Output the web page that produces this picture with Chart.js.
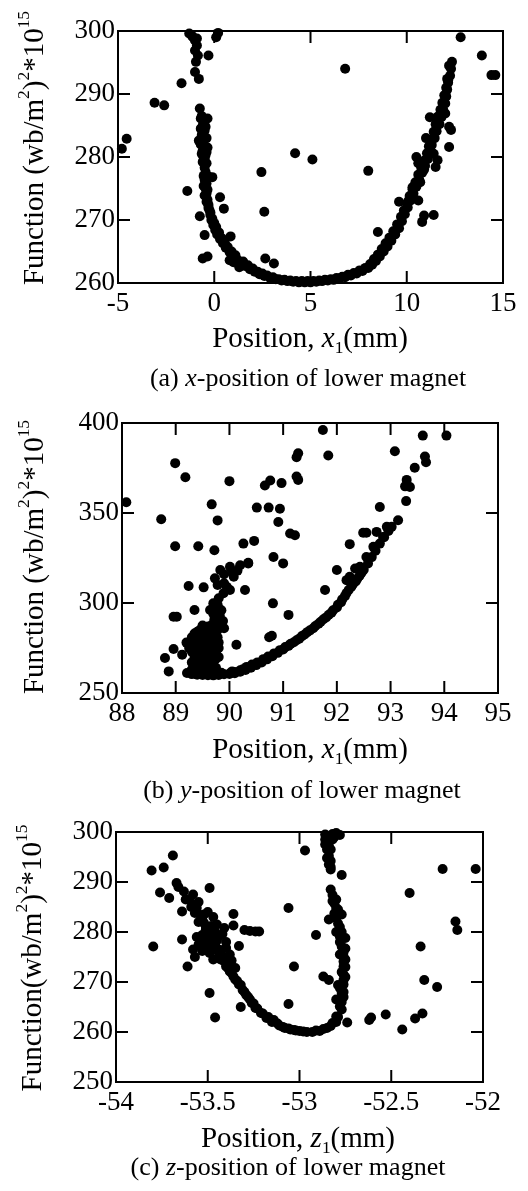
<!DOCTYPE html>
<html>
<head>
<meta charset="utf-8">
<script src="https://cdn.jsdelivr.net/npm/chart.js@4.4.1/dist/chart.umd.min.js"></script>
<style>
  html, body { margin: 0; padding: 0; background: #fff; }
  body { width: 528px; height: 1191px; position: relative; overflow: hidden; font-family: 'Liberation Serif', 'Times New Roman', serif; color: #000; }
  canvas { position: absolute; left: 0; }
  .t { position: absolute; white-space: nowrap; transform: translate(-50%, -50%); font-size: 29px; line-height: 1; }
  .cap { font-size: 26px; }
  .yt { transform: translate(-50%, -50%) rotate(-90deg); font-size: 29px; }
  sub { font-size: 0.6em; vertical-align: -0.35em; line-height: 0; }
  sup { font-size: 0.6em; vertical-align: 0.75em; line-height: 0; }
</style>
</head>
<body>
<canvas id="chartA" width="528" height="330" style="top:0px"></canvas>
<canvas id="chartB" width="528" height="345" style="top:395px"></canvas>
<canvas id="chartC" width="528" height="320" style="top:810px"></canvas>

<div class="t yt" style="left:33px;top:148px">Function (wb/m<sup>2</sup>)<sup>2</sup>*10<sup>15</sup></div>
<div class="t" style="left:310px;top:337px">Position, <i>x</i><sub>1</sub>(mm)</div>
<div class="t cap" style="left:308px;top:378px">(a) <i>x</i>-position of lower magnet</div>

<div class="t yt" style="left:33px;top:557px">Function (wb/m<sup>2</sup>)<sup>2</sup>*10<sup>15</sup></div>
<div class="t" style="left:310px;top:748px">Position, <i>x</i><sub>1</sub>(mm)</div>
<div class="t cap" style="left:302px;top:790px">(b) <i>y</i>-position of lower magnet</div>

<div class="t yt" style="left:31px;top:958px">Function(wb/m<sup>2</sup>)<sup>2</sup>*10<sup>15</sup></div>
<div class="t" style="left:298px;top:1137px">Position, <i>z</i><sub>1</sub>(mm)</div>
<div class="t cap" style="left:288px;top:1167px">(c) <i>z</i>-position of lower magnet</div>

<script>
// tick values for each panel
const ticksAX = [-5, 0, 5, 10, 15];
const ticksAY = [260, 270, 280, 290, 300];
const ticksBX = [88, 89, 90, 91, 92, 93, 94, 95];
const ticksBY = [250, 300, 350, 400];
const ticksCX = [-54, -53.5, -53, -52.5, -52];
const ticksCY = [250, 260, 270, 280, 290, 300];

// (a) x-position of lower magnet: [position, function]
const pointsA = [
  [-4.8, 281.3], [-4.55, 282.9], [-3.1, 288.6], [-2.6, 288.2], [-1.7, 291.7],
  [-1.3, 299.6], [-1.15, 299.2], [-1.0, 298.5], [-0.9, 297.7], [-1.0, 296.9], [-0.85, 296.1],
  [-0.95, 295.1], [-1.0, 293.5], [-0.8, 292.4], [-1.1, 299.0], [-0.9, 298.8],
  [-0.3, 296.1], [0.1, 299.0], [0.2, 299.7],
  [12.8, 299.0], [13.9, 296.1], [14.6, 293.0], [14.4, 293.0],
  [6.8, 294.0], [4.2, 280.6], [5.1, 279.6], [2.45, 277.6], [2.6, 271.3], [2.65, 263.9], [3.1, 263.1], [8.0, 277.8],
  [-1.4, 274.6], [-0.75, 270.6], [-0.5, 267.6], [-0.6, 263.9], [-0.35, 264.2],
  [0.3, 273.6], [0.5, 271.8], [0.85, 267.4], [0.8, 263.6],
  [-0.75, 287.7], [-0.7, 286.1], [-0.35, 286.1],
  [-0.6, 285.0], [-0.5, 284.2], [-0.65, 283.5], [-0.4, 283.0], [-0.8, 282.6], [-0.55, 282.0], [-0.35, 281.5],
  [-0.6, 281.0], [-0.45, 280.3], [-0.55, 279.6], [-0.4, 279.0], [-0.5, 278.3], [-0.45, 277.6], [-0.35, 277.0],
  [-0.5, 276.4], [-0.4, 275.8], [-0.45, 275.0], [-0.4, 274.2], [-0.1, 276.8], [-0.5, 273.9], [-0.35, 273.2],
  [-0.3, 272.4], [-0.25, 271.6], [-0.2, 270.8], [-0.15, 270.0], [-0.05, 269.2], [0.05, 268.4], [0.15, 267.7],
  [0.3, 267.0], [0.45, 266.3], [0.6, 265.6], [0.8, 264.9], [1.0, 264.3], [1.2, 263.7], [1.4, 263.2],
  [1.6, 262.7], [1.85, 262.2], [2.1, 261.8], [2.35, 261.4], [2.6, 261.1], [2.9, 260.8], [3.2, 260.6],
  [3.5, 260.4], [3.8, 260.3], [4.1, 260.2], [4.4, 260.1], [4.7, 260.1], [5.0, 260.1], [5.3, 260.2],
  [5.6, 260.3], [5.9, 260.4], [6.2, 260.5], [6.5, 260.7], [6.8, 260.9], [7.1, 261.2], [7.4, 261.5],
  [7.7, 261.9], [8.0, 262.4], [8.2, 262.9], [8.4, 263.5], [8.6, 264.2], [8.8, 265.0], [9.0, 265.8],
  [9.2, 266.7], [9.4, 267.7], [9.6, 268.7], [9.75, 269.8], [9.9, 270.9], [10.05, 272.0], [10.2, 273.1],
  [10.35, 274.2], [10.5, 275.3], [10.65, 276.4], [10.8, 277.5], [10.95, 278.6], [11.1, 279.7], [11.2, 280.8],
  [11.3, 281.9], [11.45, 283.0], [11.55, 284.1], [11.7, 285.2], [11.8, 286.3], [11.9, 287.4], [12.0, 288.5],
  [12.05, 289.6], [12.1, 290.7], [12.15, 291.8], [12.25, 292.9], [12.3, 294.0], [12.35, 295.1],
  [1.0, 263.3], [1.3, 262.5], [8.1, 262.8], [8.3, 263.5], [8.5, 268.1], [9.6, 272.9], [10.3, 275.2],
  [10.1, 273.1], [10.6, 273.1], [10.8, 269.7], [10.9, 270.7], [11.4, 270.8], [10.5, 280.0], [10.6, 279.0],
  [11.4, 280.5], [11.5, 278.4], [11.2, 281.5], [12.0, 286.9], [12.2, 284.8], [12.3, 284.3], [12.2, 281.6],
  [12.1, 292.4], [12.2, 294.5], [11.2, 286.3], [10.9, 278.0], [11.6, 279.5], [11.0, 283.0], [10.7, 276.0],
  [-0.65, 286.5], [-0.55, 285.5], [-0.7, 284.5], [-0.45, 284.8], [-0.6, 283.2], [-0.7, 282.0], [-0.5, 281.5],
  [-0.65, 280.5], [-0.4, 280.8], [-0.6, 279.2], [-0.5, 279.8], [-0.55, 277.0], [-0.45, 276.0], [-0.55, 275.4],
  [-0.35, 274.8], [-0.45, 274.0], [-0.4, 272.9], [-0.3, 271.9], [-0.2, 271.2], [-0.1, 270.2], [0.0, 269.5],
  [0.1, 268.9], [0.25, 268.0], [0.4, 267.1], [0.55, 266.4], [0.7, 265.7], [0.9, 265.0], [1.1, 264.4],
  [1.5, 263.4], [1.75, 262.8], [2.0, 262.3], [2.25, 261.8], [2.5, 261.5], [2.75, 261.2], [3.05, 260.9],
  [3.35, 260.6], [3.65, 260.5], [3.95, 260.4], [4.25, 260.3], [4.55, 260.3], [4.85, 260.3], [5.15, 260.3],
  [5.45, 260.4], [5.75, 260.5], [6.05, 260.6], [6.35, 260.8], [6.65, 261.0], [6.95, 261.3], [7.25, 261.6],
  [7.55, 262.0], [7.85, 262.4], [8.1, 263.0], [8.3, 263.8], [8.5, 264.5], [8.7, 265.4], [8.9, 266.3],
  [9.1, 267.2], [9.3, 268.2], [9.5, 269.3], [9.7, 270.5], [9.85, 271.5], [10.0, 272.6], [10.15, 273.8],
  [10.3, 274.9], [10.45, 276.0], [10.6, 277.2], [10.75, 278.3], [10.9, 279.4], [11.05, 280.6], [11.15, 281.7],
  [11.3, 282.8], [11.4, 284.0], [11.5, 285.2], [11.6, 286.4], [11.75, 287.5], [11.85, 288.6], [11.95, 289.8],
  [12.05, 291.0], [12.15, 292.2]
];

// (b) y-position of lower magnet
const pointsB = [
  [88.08, 356], [88.73, 346.5], [88.99, 377.7], [89.18, 369.9], [88.99, 331.5], [89.42, 331.5],
  [89.67, 354.8], [89.78, 345.9], [89.72, 329.3], [89.24, 309.4], [89.52, 308.7], [89.35, 296.1],
  [88.96, 292.4], [89.02, 292.4], [88.8, 269.4], [88.96, 274.4], [89.12, 271.3], [88.87, 262],
  [90.0, 367.7], [90.29, 307.2], [90.13, 276.8], [90.26, 333], [90.46, 334.5], [90.35, 322.3],
  [90.51, 353], [90.73, 353], [90.94, 352.4], [90.66, 365.3], [90.76, 368.1], [90.97, 366.6],
  [90.91, 345], [90.82, 325.6], [91.0, 322], [90.81, 299.8], [90.74, 281], [90.79, 281.8],
  [91.1, 293.4], [91.13, 338.6], [91.22, 337.6], [91.25, 381], [91.28, 383.2], [91.25, 370.3],
  [91.28, 368.4], [91.74, 396.1], [91.84, 381.9], [91.78, 307.2], [92.0, 318.3], [92.24, 332.7],
  [92.8, 353.3], [93.08, 384.3], [93.6, 393], [94.04, 393], [93.64, 381.4], [93.66, 378.2],
  [93.45, 375.1], [93.3, 368.4], [93.27, 364.8], [93.36, 364.4], [93.29, 356.6], [93.14, 346],
  [92.93, 342.3], [92.74, 339.5], [92.55, 339], [92.49, 339], [92.86, 336.7], [92.68, 331.2],
  [92.55, 325.6], [92.43, 320.1], [92.34, 319.2], [92.24, 314.6], [92.18, 312.7],
  [89.21, 261.1], [89.3, 260.5], [89.4, 260.2], [89.5, 260.0], [89.6, 259.9], [89.7, 259.8],
  [89.8, 260.0], [89.9, 260.4], [90.01, 261.0], [90.1, 261.6], [90.2, 262.6], [90.32, 264.5],
  [90.42, 265.8], [90.52, 267.0], [90.63, 268.8], [90.72, 270.3], [90.83, 272.0], [90.94, 273.8],
  [91.04, 275.5], [91.14, 277.3], [91.25, 279.3], [91.35, 281.6], [91.45, 283.8], [91.56, 286.0],
  [91.66, 288.5], [91.75, 291.0], [91.85, 293.5], [91.93, 296.0], [92.02, 299.0], [92.1, 302.0],
  [92.18, 305.5], [92.27, 309.0], [92.35, 312.0], [92.42, 315.0], [92.5, 318.5], [92.58, 322.0],
  [92.65, 325.5], [92.72, 329.0], [92.8, 333.0], [92.88, 336.5], [92.96, 340.0], [93.02, 342.3],
  [89.3, 263], [89.35, 265], [89.45, 264], [89.5, 266], [89.4, 268], [89.55, 269], [89.35, 270],
  [89.5, 271], [89.45, 273], [89.6, 274], [89.4, 275], [89.55, 276], [89.3, 277], [89.5, 278],
  [89.45, 280], [89.6, 281], [89.35, 279], [89.5, 283], [89.55, 285], [89.3, 281], [89.2, 278],
  [89.4, 284], [89.6, 267], [89.65, 264], [89.3, 267],
  [89.7, 266], [89.75, 269], [89.7, 272], [89.8, 275], [89.72, 278], [89.78, 281], [89.7, 284],
  [89.8, 287], [89.75, 290], [89.82, 293], [89.68, 288], [89.85, 296], [89.78, 299], [89.65, 275],
  [89.65, 281], [89.88, 290], [89.9, 286],
  [89.7, 299.8], [89.8, 302.6], [89.89, 305.4], [89.95, 309], [90.08, 314.6], [89.9, 316],
  [89.83, 318.3], [90.01, 320.1], [90.2, 321], [90.35, 322], [89.73, 313.7], [90.01, 307.2],
  [89.64, 296.1], [89.9, 311], [90.15, 318], [89.78, 310], [90.05, 317],
  [89.35, 262], [89.45, 262.5], [89.55, 263], [89.6, 262], [89.4, 266], [89.5, 268], [89.35, 272],
  [89.45, 270], [89.55, 272], [89.6, 278], [89.45, 276], [89.4, 279], [89.5, 281], [89.55, 283],
  [89.45, 285], [89.6, 287], [89.5, 287.5], [89.35, 283], [89.25, 275], [89.3, 273],
  [89.7, 262], [89.75, 264], [89.68, 269], [89.8, 270], [89.75, 273], [89.7, 276], [89.8, 278],
  [89.72, 282], [89.78, 285], [89.72, 291], [89.8, 291], [89.7, 294], [89.8, 297], [89.68, 285],
  [90.0, 260.6], [90.1, 261.0], [90.2, 261.8], [90.3, 262.8], [90.4, 264], [90.5, 265.5], [90.6, 267],
  [90.7, 268.7], [90.8, 270.4], [90.9, 272.3], [91.0, 274.2], [91.1, 276.2], [91.2, 278.2], [91.3, 280.2],
  [91.4, 282.5], [91.5, 284.8], [91.6, 287.2], [91.7, 289.6], [91.8, 292], [91.9, 294.6], [92.0, 297.5],
  [92.08, 300.5], [92.15, 303.8], [92.22, 307.2], [92.3, 310.5], [92.38, 313.5], [92.46, 316.8],
  [89.45, 261.2], [89.65, 261], [89.85, 261.2], [90.05, 262.0], [90.25, 263.2]
];

// (c) z-position of lower magnet
const pointsC = [
  [-53.806, 292.3], [-53.797, 277.1], [-53.76, 287.9], [-53.74, 292.9], [-53.69, 295.3], [-53.71, 286.8],
  [-53.67, 289.8], [-53.64, 284.1], [-53.64, 278.5], [-53.61, 273.1], [-53.49, 288.8], [-53.49, 267.8],
  [-53.46, 262.9], [-53.36, 283.6], [-53.36, 281.3], [-53.33, 277.2], [-53.32, 265.0], [-53.3, 280.4],
  [-53.24, 280.1], [-53.22, 280.1], [-53.27, 280.2], [-53.06, 284.8], [-53.03, 273.1], [-53.06, 265.6],
  [-52.97, 296.3], [-52.91, 279.4], [-52.87, 271.1], [-52.84, 270.4], [-52.77, 291.4], [-52.74, 261.9],
  [-52.62, 262.4], [-52.61, 262.9], [-52.53, 263.5], [-52.44, 260.5], [-52.4, 287.8], [-52.37, 262.7],
  [-52.33, 263.7], [-52.34, 277.1], [-52.32, 270.4], [-52.25, 269.0], [-52.22, 292.6], [-52.15, 282.1],
  [-52.14, 280.4], [-52.04, 292.6],
  [-52.86, 299.5], [-52.84, 298.8], [-52.86, 297.5], [-52.83, 296.5], [-52.84, 295.2], [-52.83, 294.2],
  [-52.83, 292.5], [-52.82, 299.6], [-52.8, 299.8], [-52.78, 299.4], [-52.85, 298.0], [-52.84, 293.5],
  [-52.82, 287.4], [-52.81, 285.7], [-52.81, 283.7], [-52.84, 282.5], [-52.79, 281.7], [-52.78, 279.1],
  [-52.77, 277.1], [-52.76, 275.1], [-52.76, 273.1], [-52.76, 270.4], [-52.77, 267.8], [-52.78, 265.1],
  [-52.8, 263.1], [-52.82, 261.8], [-52.85, 260.8], [-52.75, 278.8], [-52.75, 276.7], [-52.76, 274.1],
  [-52.76, 271.5], [-52.79, 269.4], [-52.8, 266.5], [-52.8, 280.0], [-52.79, 284.5], [-52.77, 272],
  [-52.78, 268.8],
  [-52.89, 260.2], [-52.93, 260.0], [-52.96, 260.0], [-53.0, 260.2], [-53.03, 260.4], [-53.06, 260.7],
  [-53.09, 261.0], [-53.12, 261.7], [-53.14, 262.4], [-53.17, 263.0], [-53.2, 263.7], [-53.23, 264.7],
  [-53.25, 265.7], [-53.27, 266.5], [-53.29, 267.4], [-53.31, 268.4], [-53.32, 269.4], [-53.34, 270.2],
  [-53.36, 271.1], [-53.38, 272.1], [-53.4, 273.1], [-53.42, 275.1], [-53.41, 274.1], [-53.44, 276.0],
  [-53.45, 276.7], [-53.47, 278.4], [-53.5, 280.1], [-53.52, 281.8], [-53.54, 283.4], [-53.56, 284.8],
  [-53.6, 286.4], [-53.63, 288.1], [-53.58, 285.5], [-53.66, 289.0],
  [-53.53, 282.5], [-53.51, 281.0], [-53.48, 279.8], [-53.44, 279.2], [-53.49, 278.0], [-53.46, 276.5],
  [-53.53, 279.4], [-53.55, 277.5], [-53.53, 276.2], [-53.42, 279.6], [-53.4, 278.0], [-53.43, 276.4],
  [-53.44, 275.0], [-53.37, 274.3], [-53.35, 272.8], [-53.57, 275.0], [-53.5, 284.0], [-53.47, 283.0],
  [-53.45, 281.5], [-53.41, 280.8], [-53.55, 286.0], [-53.58, 287.5], [-53.62, 286.5],
  [-52.83, 288.5], [-52.82, 286.2], [-52.8, 284.8], [-52.8, 282.8], [-52.78, 281], [-52.77, 280],
  [-52.78, 278], [-52.76, 276], [-52.75, 274.5], [-52.75, 273], [-52.75, 271], [-52.76, 269.5],
  [-52.76, 268], [-52.77, 266], [-52.77, 264.5], [-52.79, 263], [-52.8, 262], [-52.83, 261.2],
  [-52.87, 260.6], [-52.91, 260.3], [-52.78, 275.5], [-52.77, 283.5], [-52.8, 286.5], [-52.76, 267],
  [-52.86, 298.5], [-52.85, 296.5], [-52.84, 297.2], [-52.82, 298.5], [-52.85, 294.8], [-52.83, 293.0],
  [-52.81, 299.0],
  [-52.98, 260.1], [-53.02, 260.3], [-53.05, 260.5], [-53.08, 260.8], [-53.11, 261.3], [-53.15, 262.0],
  [-53.18, 262.8], [-53.21, 263.8], [-53.24, 264.8], [-53.26, 265.8], [-53.28, 267], [-53.3, 268],
  [-53.33, 269.5], [-53.35, 270.5], [-53.37, 271.8], [-53.39, 272.8], [-53.43, 274.5], [-53.46, 277.5],
  [-53.49, 279], [-53.51, 280.5], [-53.55, 282], [-53.57, 283.8], [-53.59, 285],
  [-53.52, 283.5], [-53.48, 281.2], [-53.46, 280.0], [-53.5, 277.2], [-53.52, 278], [-53.45, 278.3],
  [-53.4, 276.8], [-53.38, 275.5], [-53.56, 279], [-53.58, 276.5], [-53.49, 275.8], [-53.47, 274.5]
];

// frame with inward ticks on all four sides
const frameTicks = {
  id: 'frameTicks',
  beforeDatasetsDraw(chart) {
    const { ctx, chartArea: a, scales: { x, y } } = chart;
    const len = 12;
    ctx.save();
    ctx.strokeStyle = '#000';
    ctx.lineWidth = 2;
    ctx.strokeRect(a.left, a.top, a.right - a.left, a.bottom - a.top);
    ctx.beginPath();
    x.ticks.forEach(t => {
      const px = x.getPixelForValue(t.value);
      if (px <= a.left + 1 || px >= a.right - 1) return;
      ctx.moveTo(px, a.bottom); ctx.lineTo(px, a.bottom - len);
      ctx.moveTo(px, a.top); ctx.lineTo(px, a.top + len);
    });
    y.ticks.forEach(t => {
      const py = y.getPixelForValue(t.value);
      if (py <= a.top + 1 || py >= a.bottom - 1) return;
      ctx.moveTo(a.left, py); ctx.lineTo(a.left + len, py);
      ctx.moveTo(a.right, py); ctx.lineTo(a.right - len, py);
    });
    ctx.stroke();
    ctx.restore();
  }
};

const YW = 80, XH = 40;

function makeChart(id, points, xTicks, yTicks, area, canvasTop, canvasHeight) {
  const tickFont = { family: "'Liberation Serif', 'Times New Roman', serif", size: 27 };
  return new Chart(document.getElementById(id), {
    type: 'scatter',
    data: {
      datasets: [{
        data: points.map(p => ({ x: p[0], y: p[1] })),
        backgroundColor: '#000',
        borderColor: '#000',
        borderWidth: 0,
        pointRadius: 5,
        clip: false
      }]
    },
    options: {
      responsive: false,
      animation: false,
      devicePixelRatio: 1,
      layout: {
        padding: {
          left: area.l - YW,
          right: 528 - area.r,
          top: area.t - canvasTop,
          bottom: canvasTop + canvasHeight - area.b - XH
        }
      },
      plugins: { legend: { display: false }, tooltip: { enabled: false } },
      scales: {
        x: {
          type: 'linear',
          min: xTicks[0],
          max: xTicks[xTicks.length - 1],
          afterBuildTicks: s => { s.ticks = xTicks.map(v => ({ value: v })); },
          afterFit: s => { s.height = XH; },
          grid: { display: false, drawTicks: false },
          border: { display: false },
          ticks: { color: '#000', font: tickFont, padding: 5, maxRotation: 0, autoSkip: false, callback: v => String(v) }
        },
        y: {
          type: 'linear',
          min: yTicks[0],
          max: yTicks[yTicks.length - 1],
          afterBuildTicks: s => { s.ticks = yTicks.map(v => ({ value: v })); },
          afterFit: s => { s.width = YW; },
          grid: { display: false, drawTicks: false },
          border: { display: false },
          ticks: { color: '#000', font: tickFont, padding: 3, autoSkip: false, callback: v => String(v) }
        }
      }
    },
    plugins: [frameTicks]
  });
}

makeChart('chartA', pointsA, ticksAX, ticksAY, { l: 118, t: 31, r: 503, b: 283 }, 0, 330);
makeChart('chartB', pointsB, ticksBX, ticksBY, { l: 122, t: 423, r: 498, b: 693 }, 395, 345);
makeChart('chartC', pointsC, ticksCX, ticksCY, { l: 116, t: 832, r: 483, b: 1082 }, 810, 320);
</script>
</body>
</html>
